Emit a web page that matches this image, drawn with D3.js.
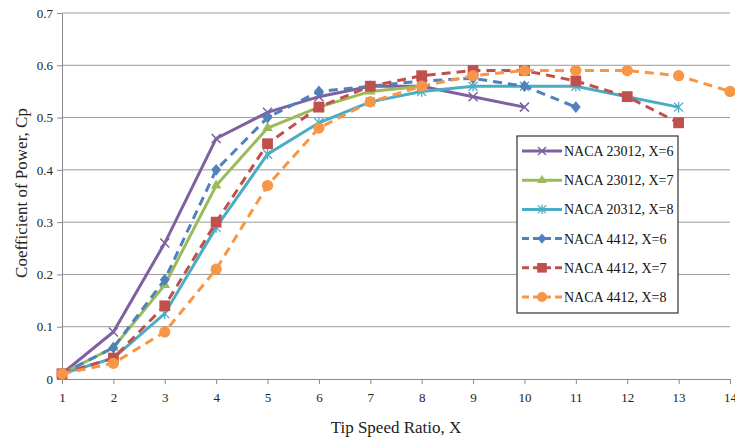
<!DOCTYPE html>
<html>
<head>
<meta charset="utf-8">
<script src="https://cdn.jsdelivr.net/npm/d3@7"></script>
<style>
  body { margin: 0; background: #fff; }
  svg { display: block; font-family: "Liberation Serif", "Times New Roman", serif; }
</style>
</head>
<body>
<div id="chart"></div>
<script>
const width = 735;
const height = 441;
const margin = {top: 13, right: 5, bottom: 62, left: 62};

const tsr = [1, 2, 3, 4, 5, 6, 7, 8, 9, 10, 11, 12, 13, 14];
const yTicks = [0, 0.1, 0.2, 0.3, 0.4, 0.5, 0.6, 0.7];

const naca23012x6 = [0.01, 0.09, 0.26, 0.46, 0.51, 0.54, 0.56, 0.56, 0.54, 0.52];
const naca23012x7 = [0.01, 0.06, 0.18, 0.37, 0.48, 0.52, 0.55, 0.56];
const naca20312x8 = [0.01, 0.04, 0.125, 0.29, 0.43, 0.49, 0.53, 0.55, 0.56, 0.56, 0.56, 0.54, 0.52];
const naca4412x6  = [0.01, 0.06, 0.19, 0.40, 0.50, 0.55, 0.56, 0.57, 0.575, 0.56, 0.52];
const naca4412x7  = [0.01, 0.04, 0.14, 0.30, 0.45, 0.52, 0.56, 0.58, 0.59, 0.59, 0.57, 0.54, 0.49];
const naca4412x8  = [0.01, 0.03, 0.09, 0.21, 0.37, 0.48, 0.53, 0.56, 0.58, 0.59, 0.59, 0.59, 0.58, 0.55];

const series = [
  {name: 'NACA 23012, X=6', values: naca23012x6, color: '#7f60a0', dash: null, marker: 'x'},
  {name: 'NACA 23012, X=7', values: naca23012x7, color: '#9bbb59', dash: null, marker: 'triangle'},
  {name: 'NACA 20312, X=8', values: naca20312x8, color: '#4bacc6', dash: null, marker: 'star'},
  {name: 'NACA 4412, X=6',  values: naca4412x6,  color: '#4f81bd', dash: '9,6', marker: 'diamond'},
  {name: 'NACA 4412, X=7',  values: naca4412x7,  color: '#c0504d', dash: '9,6', marker: 'square'},
  {name: 'NACA 4412, X=8',  values: naca4412x8,  color: '#f79646', dash: '9,6', marker: 'circle'},
];

const x = d3.scaleLinear().domain([1, 14]).range([margin.left, width - margin.right]);
const y = d3.scaleLinear().domain([0, 0.7]).range([height - margin.bottom, margin.top]);

const svg = d3.select('#chart')
  .append('svg')
  .attr('width', width)
  .attr('height', height);

// Grid lines.
svg.append('g')
  .selectAll('line')
  .data(yTicks.slice(1))
  .join('line')
  .attr('x1', margin.left)
  .attr('x2', width - margin.right)
  .attr('y1', d => y(d))
  .attr('y2', d => y(d))
  .attr('stroke', '#9a9a9a')
  .attr('stroke-width', 1);

// Axes.
svg.append('g')
  .attr('transform', `translate(0,${height - margin.bottom})`)
  .call(d3.axisBottom(x).tickValues(tsr).tickFormat(d3.format('d')).tickSize(5).tickSizeOuter(0))
  .call(g => g.select('.domain').attr('stroke', '#8a8a8a'))
  .call(g => g.selectAll('.tick line').attr('stroke', '#8a8a8a'))
  .call(g => g.selectAll('.tick text')
    .attr('dy', '1.15em')
    .style('font', '13px "Liberation Serif", serif')
    .attr('fill', '#222'));

svg.append('g')
  .attr('transform', `translate(${margin.left},0)`)
  .call(d3.axisLeft(y).tickValues(yTicks).tickFormat(d => d === 0 ? '0' : d3.format('.1f')(d)).tickSize(5).tickSizeOuter(0))
  .call(g => g.select('.domain').attr('stroke', '#8a8a8a'))
  .call(g => g.selectAll('.tick line').attr('stroke', '#8a8a8a'))
  .call(g => g.selectAll('.tick text')
    .attr('x', -9)
    .style('font', '13px "Liberation Serif", serif')
    .attr('fill', '#222'));

// Axis titles.
svg.append('text')
  .attr('x', (margin.left + width - margin.right) / 2)
  .attr('y', 433)
  .attr('text-anchor', 'middle')
  .style('font-size', '17px')
  .attr('fill', '#222')
  .text('Tip Speed Ratio, X');

svg.append('text')
  .attr('transform', 'translate(27,193) rotate(-90)')
  .attr('text-anchor', 'middle')
  .style('font-size', '17px')
  .attr('fill', '#222')
  .text('Coefficient of Power, Cp');

const line = d3.line()
  .x((d, i) => x(tsr[i]))
  .y(d => y(d));

function drawMarker(g, type, color, size) {
  const s = size;
  if (type === 'x') {
    g.append('path')
      .attr('d', `M${-s},${-s}L${s},${s}M${-s},${s}L${s},${-s}`)
      .attr('stroke', color).attr('stroke-width', 1.5).attr('fill', 'none');
  } else if (type === 'triangle') {
    g.append('path')
      .attr('d', d3.symbol(d3.symbolTriangle, s * s * 2.4)())
      .attr('fill', color);
  } else if (type === 'star') {
    g.append('path')
      .attr('d', `M${-s},${-s}L${s},${s}M${-s},${s}L${s},${-s}M0,${-s * 1.2}V${s * 1.2}`)
      .attr('stroke', color).attr('stroke-width', 1.3).attr('fill', 'none');
  } else if (type === 'diamond') {
    g.append('path')
      .attr('d', `M0,${-s * 1.3}L${s * 1.1},0L0,${s * 1.3}L${-s * 1.1},0Z`)
      .attr('fill', color);
  } else if (type === 'square') {
    g.append('rect')
      .attr('x', -s * 1.2).attr('y', -s * 1.2)
      .attr('width', s * 2.4).attr('height', s * 2.4)
      .attr('fill', color);
  } else if (type === 'circle') {
    g.append('circle').attr('r', s * 1.25).attr('fill', color);
  }
}

// Series lines and markers.
series.forEach(s => {
  const g = svg.append('g');
  g.append('path')
    .datum(s.values)
    .attr('fill', 'none')
    .attr('stroke', s.color)
    .attr('stroke-width', 3)
    .attr('stroke-dasharray', s.dash)
    .attr('d', line);
  g.selectAll('g')
    .data(s.values)
    .join('g')
    .attr('transform', (d, i) => `translate(${x(tsr[i])},${y(d)})`)
    .each(function() { drawMarker(d3.select(this), s.marker, s.color, 4.5); });
});

// Legend.
const legend = svg.append('g').attr('transform', 'translate(517,136)');
legend.append('rect')
  .attr('width', 161)
  .attr('height', 177)
  .attr('fill', '#fff')
  .attr('stroke', '#333')
  .attr('stroke-width', 1.2);

const item = legend.selectAll('g')
  .data(series)
  .join('g')
  .attr('transform', (d, i) => `translate(0,${15 + i * 29.2})`);

item.append('line')
  .attr('x1', 5)
  .attr('x2', 45)
  .attr('stroke', d => d.color)
  .attr('stroke-width', 3)
  .attr('stroke-dasharray', d => d.dash ? '7,4' : null);

item.append('g')
  .attr('transform', 'translate(25,0)')
  .each(function(d) { drawMarker(d3.select(this), d.marker, d.color, 4); });

item.append('text')
  .attr('x', 47)
  .attr('dy', '0.35em')
  .style('font-size', '14px')
  .attr('fill', '#111')
  .text(d => d.name);
</script>
</body>
</html>
